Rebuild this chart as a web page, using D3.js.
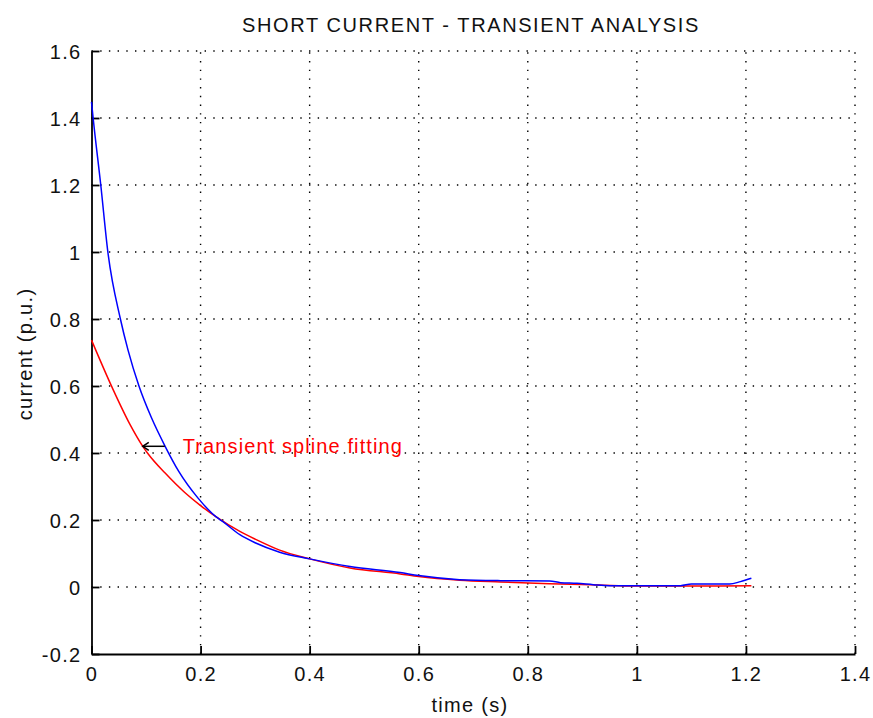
<!DOCTYPE html>
<html>
<head>
<meta charset="utf-8">
<script src="https://cdn.jsdelivr.net/npm/d3@7/dist/d3.min.js"></script>
<style>
  html, body { margin: 0; padding: 0; background: #fff; }
  svg { display: block; font-family: "Liberation Sans", Arial, sans-serif; }
</style>
</head>
<body>
<svg id="chart" width="873" height="718"></svg>
<script>
// Measured short-circuit current (blue) and its transient spline fit (red)
const blueTime = [0, 0.003, 0.017, 0.030, 0.053, 0.067, 0.087, 0.110, 0.135, 0.160, 0.195, 0.228, 0.241,
  0.272, 0.300, 0.345, 0.400, 0.474, 0.566, 0.600, 0.675, 0.750, 0.840, 0.860, 0.890, 0.920, 0.950, 1.080,
  1.100, 1.170, 1.190, 1.210];
const blueCurrent = [1.448, 1.400, 1.200, 1.000, 0.800, 0.707, 0.600, 0.505, 0.420, 0.345, 0.266, 0.210, 0.195,
  0.156, 0.132, 0.104, 0.084, 0.061, 0.043, 0.034, 0.022, 0.019, 0.018, 0.013, 0.011, 0.007, 0.004, 0.004,
  0.009, 0.009, 0.016, 0.026];

const redTime = [0, 0.038, 0.070, 0.094, 0.104, 0.135, 0.171, 0.200, 0.228, 0.272, 0.300, 0.345, 0.400, 0.474,
  0.566, 0.600, 0.675, 0.750, 0.840, 0.930, 1.000, 1.090, 1.210];
const redCurrent = [0.737, 0.595, 0.487, 0.420, 0.397, 0.340, 0.282, 0.243, 0.210, 0.166, 0.143, 0.110, 0.084,
  0.057, 0.039, 0.031, 0.020, 0.015, 0.010, 0.006, 0.003, 0.003, 0.004];

const xTicks = [0, 0.2, 0.4, 0.6, 0.8, 1, 1.2, 1.4];
const yTicks = [-0.2, 0, 0.2, 0.4, 0.6, 0.8, 1, 1.2, 1.4, 1.6];

const titleText = "SHORT CURRENT - TRANSIENT ANALYSIS";
const xLabel = "time (s)";
const yLabel = "current (p.u.)";
const annotationText = "Transient spline fitting";
const annotationPoint = { t: 0.094, v: 0.42 };

const svg = d3.select("#chart");
const plotLeft = 91.5, plotRight = 855, plotTop = 51, plotBottom = 654;

const x = d3.scaleLinear().domain([0, 1.4]).range([plotLeft, plotRight]);
const y = d3.scaleLinear().domain([-0.2, 1.6]).range([plotBottom, plotTop]);

const fmt = d => (d === 0 ? "0" : String(+d.toFixed(1)));
const textStyle = sel => sel.attr("fill", "#111").style("font-size", "20px")
  .style("font-family", "'Liberation Sans', Arial, sans-serif").style("letter-spacing", "1.3px");

// dotted grid
const grid = svg.append("g").attr("stroke", "#000").attr("stroke-width", 1.4)
  .attr("stroke-dasharray", "1.4,7.3").attr("fill", "none");
grid.selectAll(".gx").data(xTicks.filter(d => d > 0)).join("line")
  .attr("x1", d => x(d)).attr("x2", d => x(d)).attr("y1", plotBottom).attr("y2", plotTop);
grid.selectAll(".gy").data(yTicks.filter(d => d > -0.2)).join("line")
  .attr("y1", d => y(d)).attr("y2", d => y(d)).attr("x1", plotLeft).attr("x2", plotRight);

// axes with inward ticks
const xAxis = d3.axisBottom(x).tickValues(xTicks).tickSizeInner(-8).tickSizeOuter(0).tickPadding(13).tickFormat(fmt);
const yAxis = d3.axisLeft(y).tickValues(yTicks).tickSizeInner(-8).tickSizeOuter(0).tickPadding(10).tickFormat(fmt);

const gx = svg.append("g").attr("transform", `translate(0,${plotBottom})`).call(xAxis);
const gy = svg.append("g").attr("transform", `translate(${plotLeft},0)`).call(yAxis);
[gx, gy].forEach(g => {
  g.select(".domain").attr("stroke", "#000").attr("stroke-width", 1.8);
  g.selectAll(".tick line").attr("stroke", "#000").attr("stroke-width", 1.8);
  g.selectAll(".tick text").call(textStyle);
});
gx.selectAll(".tick text").attr("dy", "0.71em");
gy.selectAll(".tick text").attr("dy", "0.35em");

// curves
const line = d3.line().curve(d3.curveMonotoneX).x(d => x(d[0])).y(d => y(d[1]));
svg.append("path").datum(d3.zip(redTime, redCurrent))
  .attr("d", line).attr("fill", "none").attr("stroke", "#ff0000").attr("stroke-width", 1.5);
svg.append("path").datum(d3.zip(blueTime, blueCurrent))
  .attr("d", line).attr("fill", "none").attr("stroke", "#0000ff").attr("stroke-width", 1.5);

// annotation arrow and label
const ax = x(annotationPoint.t), ay = y(annotationPoint.v);
const arrow = svg.append("g").attr("stroke", "#000").attr("stroke-width", 1.5).attr("fill", "none");
arrow.append("line").attr("x1", ax).attr("x2", ax + 22).attr("y1", ay).attr("y2", ay);
arrow.append("path").attr("d", `M${ax + 6},${ay - 4}L${ax},${ay}L${ax + 6},${ay + 4}`);
svg.append("text").attr("x", ax + 40).attr("y", ay + 7).call(textStyle)
  .attr("fill", "#ff0000").style("letter-spacing", "1.1px").text(annotationText);

// titles
svg.append("text").attr("x", 471).attr("y", 32).attr("text-anchor", "middle")
  .call(textStyle).style("letter-spacing", "1.6px").text(titleText);
svg.append("text").attr("x", 470).attr("y", 712).attr("text-anchor", "middle")
  .call(textStyle).text(xLabel);
svg.append("text").attr("transform", "translate(32,354) rotate(-90)").attr("text-anchor", "middle")
  .call(textStyle).text(yLabel);
</script>
</body>
</html>
